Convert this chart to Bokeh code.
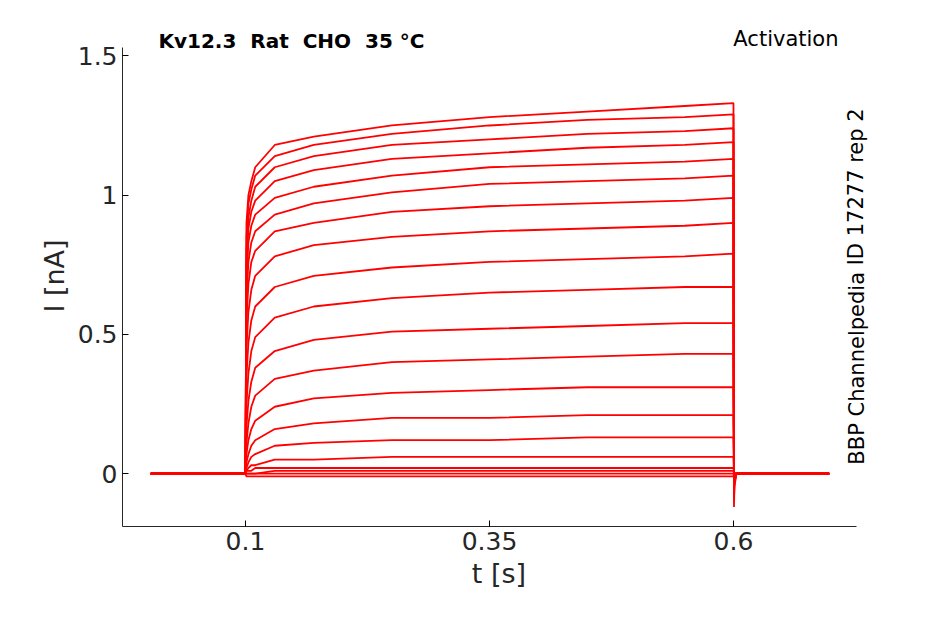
from bokeh.plotting import figure
from bokeh.embed import file_html
from bokeh.resources import INLINE
from bokeh.models import FixedTicker, Label

t_step = [0.1, 0.101, 0.103, 0.106, 0.11, 0.13, 0.17, 0.25, 0.35, 0.45, 0.55, 0.6]
traces = [
 [0,0.9,1.0,1.05,1.1,1.18,1.21,1.25,1.28,1.3,1.32,1.33],
 [0,0.85,0.97,1.02,1.07,1.14,1.18,1.22,1.25,1.27,1.28,1.29],
 [0,0.8,0.92,0.98,1.03,1.1,1.14,1.18,1.2,1.22,1.23,1.24],
 [0,0.75,0.88,0.94,0.98,1.05,1.09,1.13,1.15,1.17,1.18,1.19],
 [0,0.7,0.83,0.89,0.93,0.99,1.03,1.07,1.1,1.11,1.12,1.13],
 [0,0.63,0.76,0.83,0.87,0.93,0.97,1.01,1.04,1.05,1.06,1.07],
 [0,0.55,0.68,0.76,0.8,0.87,0.9,0.94,0.96,0.97,0.98,0.99],
 [0,0.45,0.58,0.66,0.71,0.78,0.82,0.85,0.87,0.88,0.89,0.9],
 [0,0.35,0.47,0.55,0.6,0.67,0.71,0.74,0.76,0.77,0.78,0.79],
 [0,0.25,0.36,0.44,0.49,0.56,0.6,0.63,0.65,0.66,0.67,0.67],
 [0,0.17,0.26,0.33,0.38,0.44,0.48,0.51,0.52,0.53,0.54,0.54],
 [0,0.11,0.18,0.24,0.28,0.34,0.37,0.4,0.41,0.42,0.43,0.43],
 [0,0.07,0.12,0.16,0.19,0.24,0.27,0.29,0.3,0.31,0.31,0.31],
 [0,0.04,0.07,0.1,0.12,0.16,0.18,0.2,0.2,0.21,0.21,0.21],
 [0,0.02,0.04,0.06,0.07,0.1,0.11,0.12,0.12,0.13,0.13,0.13],
 [0,0.01,0.02,0.03,0.03,0.05,0.05,0.06,0.06,0.06,0.06,0.06],
 [0,0.01,0.01,0.01,0.02,0.02,0.02,0.02,0.02,0.02,0.02,0.02],
 [0,0,0,0,0,0.01,0.01,0.01,0.01,0.01,0.01,0.01],
 [0,0,0,0,0,0,0,0,0,0,0,0],
 [0,-0.01,-0.01,-0.01,-0.01,-0.01,-0.01,-0.01,-0.01,-0.01,-0.01,-0.01],
]
t_pre = [0.003, 0.0995]
y_pre = [0.0, 0.0]
t_post = [0.6005, 0.601, 0.603, 0.61, 0.698]
tail_dips = [-0.12, -0.09, -0.07, -0.05, -0.04, -0.03, -0.02, -0.02, -0.01, -0.01, -0.01, 0, 0, 0, 0, 0, 0, 0, 0, 0]

p = figure(width=930, height=610, output_backend="svg", toolbar_location=None,
           x_range=(-0.026, 0.7455), y_range=(-0.19, 1.609),
           min_border_left=122, min_border_top=25, min_border_right=55, min_border_bottom=84)
for tr, d in zip(traces, tail_dips):
    xs = t_pre + t_step + t_post
    ys = y_pre + tr + [d, d * 0.4, 0.0, 0.0, 0.0]
    p.line(xs, ys, color="red", line_width=1.8)

p.grid.visible = False
p.outline_line_color = None
p.xaxis.bounds = (-0.026, 0.726)
p.yaxis.bounds = (-0.19, 1.53)
p.xaxis.ticker = FixedTicker(ticks=[0.1, 0.35, 0.6])
p.yaxis.ticker = FixedTicker(ticks=[0, 0.5, 1, 1.5])
p.xaxis.major_label_overrides = {0.1: "0.1", 0.35: "0.35", 0.6: "0.6"}
p.yaxis.major_label_overrides = {0: "0", 0.5: "0.5", 1: "1", 1.5: "1.5"}
for ax in (p.xaxis, p.yaxis):
    ax.major_label_text_font = "DejaVu Sans"
    ax.major_label_text_font_size = "25px"
    ax.major_label_text_color = "#262626"
    ax.axis_label_text_font = "DejaVu Sans"
    ax.axis_label_text_font_size = "27px"
    ax.axis_label_text_font_style = "normal"
    ax.axis_label_text_color = "#262626"
    ax.minor_tick_line_color = None
    ax.major_tick_out = 0
    ax.major_tick_in = 6
    ax.axis_line_color = "#262626"
p.xaxis.axis_label = "t [s]"
p.yaxis.axis_label = "I [nA]"

nb = "\u00a0"
p.add_layout(Label(x=36, y=486, x_units="screen", y_units="screen",
                   text=f"Kv12.3{nb}{nb}Rat{nb}{nb}CHO{nb}{nb}35{nb}°C", text_color="black",
                   text_font="DejaVu Sans", text_font_style="bold", text_font_size="20px", text_baseline="middle"))
p.add_layout(Label(x=716, y=488, x_units="screen", y_units="screen", text="Activation", text_color="black",
                   text_font="DejaVu Sans", text_font_size="21px", text_align="right", text_baseline="middle"))
p.add_layout(Label(x=734, y=240, x_units="screen", y_units="screen", text="BBP Channelpedia ID 17277 rep 2",
                   text_color="black", text_font="DejaVu Sans", text_font_size="21px", text_align="center",
                   text_baseline="middle", angle=1.5708))

open("out.html", "w").write(file_html(p, INLINE))
